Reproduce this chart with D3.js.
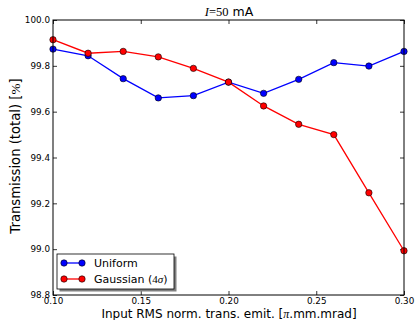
<!DOCTYPE html>
<html><head><meta charset="utf-8">
<script src="https://cdn.jsdelivr.net/npm/d3@7"></script>
<style>body{margin:0;background:#fff}svg{display:block}</style>
</head><body><svg id="chart" width="415" height="320"></svg>
<script>
// Input RMS normalised transverse emittance [π.mm.mrad]
const emittance = [0.10, 0.12, 0.14, 0.16, 0.18, 0.20, 0.22, 0.24, 0.26, 0.28, 0.30];
// Total transmission [%] for each input distribution
const uniform  = [99.873, 99.844, 99.744, 99.660, 99.670, 99.729, 99.680, 99.741, 99.814, 99.799, 99.863];
const gaussian = [99.914, 99.855, 99.863, 99.839, 99.789, 99.729, 99.625, 99.545, 99.500, 99.246, 98.993];
const xTicks = [0.10, 0.15, 0.20, 0.25, 0.30];
const yTicks = [98.8, 99.0, 99.2, 99.4, 99.6, 99.8, 100.0];
const seriesNames = ["Uniform", "Gaussian"];
const seriesColors = ["#0000ff", "#ff0000"];

const svg = d3.select("#chart");
const m = {left: 53, top: 20, right: 11, bottom: 25};
const W = 415, H = 320;
const x = d3.scaleLinear().domain([0.10, 0.30]).range([m.left, W - m.right]);
const y = d3.scaleLinear().domain([98.8, 100.0]).range([H - m.bottom, m.top]);

const sans = "'DejaVu Sans', sans-serif";
const serif = "'Liberation Serif', 'DejaVu Serif', serif";
const tickFont = 8.8;

function styleAxis(g) {
  g.select(".domain").remove();
  g.selectAll(".tick line").attr("stroke", "#000").attr("stroke-width", 0.8);
  g.selectAll(".tick text").attr("font-family", sans).attr("font-size", tickFont).attr("fill", "#000");
}

// ticks point inward on all four sides
svg.append("g").attr("transform", `translate(0,${y.range()[0]})`)
  .call(d3.axisBottom(x).tickValues(xTicks).tickFormat(d3.format(".2f")).tickSizeInner(-4).tickSizeOuter(0).tickPadding(3))
  .call(styleAxis);
svg.append("g").attr("transform", `translate(0,${y.range()[1]})`)
  .call(d3.axisTop(x).tickValues(xTicks).tickFormat("").tickSizeInner(-4).tickSizeOuter(0))
  .call(styleAxis);
svg.append("g").attr("transform", `translate(${x.range()[0]},0)`)
  .call(d3.axisLeft(y).tickValues(yTicks).tickFormat(d3.format(".1f")).tickSizeInner(-4).tickSizeOuter(0).tickPadding(3))
  .call(styleAxis);
svg.append("g").attr("transform", `translate(${x.range()[1]},0)`)
  .call(d3.axisRight(y).tickValues(yTicks).tickFormat("").tickSizeInner(-4).tickSizeOuter(0))
  .call(styleAxis);

// series lines and markers
const line = d3.line().x((d, i) => x(emittance[i])).y(d => y(d));
[uniform, gaussian].forEach((vals, k) => {
  svg.append("path").datum(vals).attr("d", line)
    .attr("fill", "none").attr("stroke", seriesColors[k]).attr("stroke-width", 1.3);
});
[uniform, gaussian].forEach((vals, k) => {
  svg.append("g").selectAll("circle").data(vals).join("circle")
    .attr("cx", (d, i) => x(emittance[i])).attr("cy", d => y(d)).attr("r", 3.2)
    .attr("fill", seriesColors[k]).attr("stroke", "#000").attr("stroke-width", 0.6);
});

// plot frame
svg.append("rect")
  .attr("x", x.range()[0]).attr("y", y.range()[1])
  .attr("width", x.range()[1] - x.range()[0]).attr("height", y.range()[0] - y.range()[1])
  .attr("fill", "none").attr("stroke", "#000").attr("stroke-width", 1);

// title
const title = svg.append("text").attr("x", 229).attr("y", 16).attr("text-anchor", "middle")
  .attr("font-family", sans).attr("font-size", 12.5);
title.append("tspan").attr("font-family", serif).attr("font-style", "italic").text("I");
title.append("tspan").attr("font-family", serif).text("=50");
title.append("tspan").text(" mA");

// axis labels
svg.append("text").attr("x", 229).attr("y", 318).attr("text-anchor", "middle")
  .attr("font-family", sans).attr("font-size", 12)
  .call(t => {
    t.append("tspan").text("Input RMS norm. trans. emit. [");
    t.append("tspan").attr("font-family", serif).attr("font-style", "italic").text("π");
    t.append("tspan").text(".mm.mrad]");
  });
svg.append("text").attr("transform", "translate(20,156) rotate(-90)").attr("text-anchor", "middle")
  .attr("font-family", sans).attr("font-size", 13.2)
  .call(t => {
    t.append("tspan").text("Transmission (total) [");
    t.append("tspan").attr("font-family", serif).text("%");
    t.append("tspan").text("]");
  });

// legend with drop shadow
const lg = svg.append("g").attr("transform", "translate(57,254)");
lg.append("rect").attr("x", 2.5).attr("y", 2.5).attr("width", 117).attr("height", 35).attr("fill", "#808080");
lg.append("rect").attr("width", 117).attr("height", 35).attr("fill", "#fff").attr("stroke", "#000").attr("stroke-width", 0.8);
seriesNames.forEach((name, k) => {
  const yy = 9 + k * 16;
  lg.append("line").attr("x1", 7).attr("x2", 25).attr("y1", yy).attr("y2", yy)
    .attr("stroke", seriesColors[k]).attr("stroke-width", 1.3);
  [7, 25].forEach(cx => lg.append("circle").attr("cx", cx).attr("cy", yy).attr("r", 3.2)
    .attr("fill", seriesColors[k]).attr("stroke", "#000").attr("stroke-width", 0.6));
  const t = lg.append("text").attr("x", 37).attr("y", yy + 4).attr("font-family", sans).attr("font-size", 11);
  if (k === 0) t.text(name);
  else {
    t.append("tspan").text(name + " (");
    t.append("tspan").attr("font-family", serif).text("4");
    t.append("tspan").attr("font-family", serif).attr("font-style", "italic").text("σ");
    t.append("tspan").text(")");
  }
});
</script></body></html>
